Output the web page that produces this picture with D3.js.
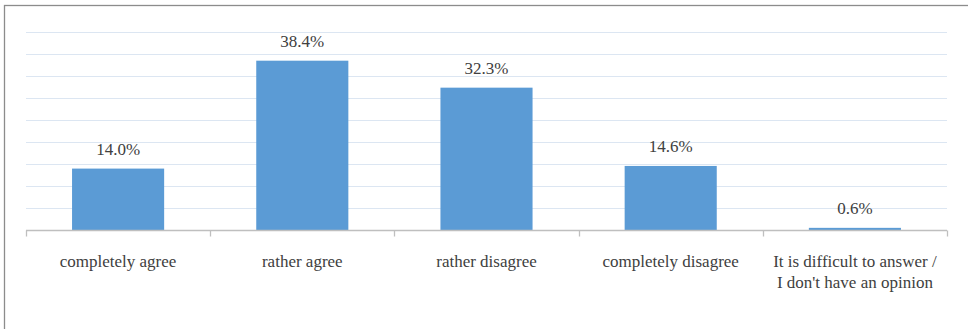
<!DOCTYPE html>
<html>
<head>
<meta charset="utf-8">
<script src="https://cdn.jsdelivr.net/npm/d3@7"></script>
<style>
  body { margin: 0; background: #fff; }
  svg { display: block; }
  svg text { font-family: "Liberation Serif", "Times New Roman", Times, "DejaVu Serif", serif; fill: #404040; }
</style>
</head>
<body>
<div id="chart"></div>
<script>
const categories = [
  "completely agree",
  "rather agree",
  "rather disagree",
  "completely disagree",
  "It is difficult to answer /\nI don't have an opinion"
];
const values = [14.0, 38.4, 32.3, 14.6, 0.6];
const gridTicks = [5, 10, 15, 20, 25, 30, 35, 40, 45];

const width = 968, height = 329;
const margin = { top: 31.5, left: 26, right: 21, bottom: 99 };

const svg = d3.select("#chart")
  .append("svg")
  .attr("width", width)
  .attr("height", height);

// frame
svg.append("rect")
  .attr("x", 4.5)
  .attr("y", 5.5)
  .attr("width", width + 10)
  .attr("height", height + 10)
  .attr("fill", "#fff")
  .attr("stroke", "#8c8c8c")
  .attr("stroke-width", 1.3);

const x = d3.scaleBand()
  .domain(categories)
  .range([margin.left, width - margin.right])
  .paddingInner(0.5)
  .paddingOuter(0.25);

const y = d3.scaleLinear()
  .domain([0, 45])
  .range([230.5, margin.top]);

// gridlines
svg.append("g")
  .selectAll("line")
  .data(gridTicks)
  .join("line")
  .attr("x1", margin.left)
  .attr("x2", width - margin.right)
  .attr("y1", d => Math.round(y(d)) + 0.5)
  .attr("y2", d => Math.round(y(d)) + 0.5)
  .attr("stroke", "#dce6f2")
  .attr("stroke-width", 1);

// bars
svg.append("g")
  .selectAll("rect")
  .data(values)
  .join("rect")
  .attr("x", (d, i) => x(categories[i]))
  .attr("y", d => y(d))
  .attr("width", x.bandwidth())
  .attr("height", d => y(0) - y(d))
  .attr("fill", "#5b9bd5");

// value labels
svg.append("g")
  .selectAll("text")
  .data(values)
  .join("text")
  .attr("x", (d, i) => x(categories[i]) + x.bandwidth() / 2)
  .attr("y", d => y(d) - 14)
  .attr("text-anchor", "middle")
  .attr("font-size", "17px")
  .text(d => d.toFixed(1) + "%");

// x axis with boundary ticks
const step = x.step();
const boundaries = d3.range(categories.length + 1).map(i => margin.left + i * step);

const axis = svg.append("g");
axis.append("line")
  .attr("x1", margin.left)
  .attr("x2", width - margin.right)
  .attr("y1", 230.5)
  .attr("y2", 230.5)
  .attr("stroke", "#bfbfbf")
  .attr("stroke-width", 1.3);

axis.selectAll(".tick")
  .data(boundaries)
  .join("line")
  .attr("class", "tick")
  .attr("x1", d => Math.round(d) + 0.5)
  .attr("x2", d => Math.round(d) + 0.5)
  .attr("y1", 230.5)
  .attr("y2", 236.5)
  .attr("stroke", "#bfbfbf")
  .attr("stroke-width", 1.3);

// category labels
const labels = svg.append("g")
  .selectAll("text")
  .data(categories)
  .join("text")
  .attr("x", d => x(d) + x.bandwidth() / 2)
  .attr("y", 267)
  .attr("text-anchor", "middle")
  .attr("font-size", "17px");

labels.each(function (d) {
  const lines = d.split("\n");
  d3.select(this).selectAll("tspan")
    .data(lines)
    .join("tspan")
    .attr("x", x(d) + x.bandwidth() / 2)
    .attr("dy", (l, i) => i === 0 ? 0 : 21)
    .text(l => l);
});
</script>
</body>
</html>
